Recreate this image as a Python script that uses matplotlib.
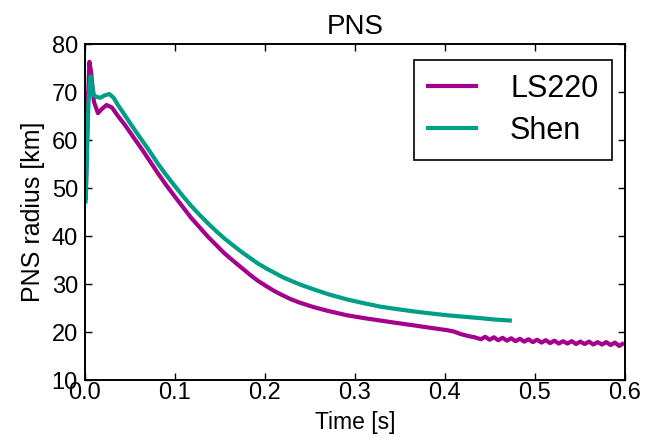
import matplotlib
matplotlib.use("Agg")
import matplotlib.pyplot as plt

# ---------------------------- данные ------------------------------- #
T_LS220 = [0.001, 0.003, 0.005, 0.007, 0.010, 0.0145, 0.019, 0.024, 0.030,
           0.036, 0.045, 0.055, 0.064, 0.0722, 0.081, 0.090, 0.100, 0.109,
           0.118, 0.128, 0.137, 0.146, 0.155, 0.165, 0.174, 0.183, 0.192,
           0.202, 0.210, 0.217, 0.228, 0.239, 0.254, 0.270, 0.291, 0.310,
           0.328, 0.346, 0.365, 0.383, 0.402, 0.410, 0.417, 0.425, 0.433,
           0.4400, 0.4448, 0.4496, 0.4544, 0.4592, 0.4640, 0.4688, 0.4736,
           0.4784, 0.4832, 0.4880, 0.4928, 0.4976, 0.5024, 0.5072, 0.5120,
           0.5168, 0.5216, 0.5264, 0.5312, 0.5360, 0.5408, 0.5456, 0.5504,
           0.5552, 0.5600, 0.5648, 0.5696, 0.5744, 0.5792, 0.5840, 0.5888,
           0.5936, 0.5970]
R_LS220 = [48.0, 66.0, 76.3, 74.0, 68.0, 65.6, 66.5, 67.3, 66.8,
           65.2, 63.0, 60.3, 57.9, 55.6, 53.1, 50.7, 48.2, 46.0,
           43.8, 41.7, 39.8, 38.1, 36.4, 34.8, 33.4, 32.0, 30.7,
           29.5, 28.6, 27.9, 26.9, 26.1, 25.2, 24.4, 23.5, 22.9,
           22.4, 21.9, 21.4, 20.9, 20.4, 20.1, 19.6, 19.2, 18.9,
           18.5, 19.0, 18.4, 18.9, 18.3, 18.8, 18.2, 18.7, 18.1,
           18.6, 18.0, 18.5, 17.9, 18.4, 17.8, 18.3, 17.7, 18.2,
           17.6, 18.1, 17.6, 18.1, 17.5, 18.0, 17.5, 18.0, 17.4,
           17.9, 17.4, 17.9, 17.3, 17.8, 17.1, 17.5]

T_SHEN = [0.0008, 0.002, 0.004, 0.0063, 0.008, 0.010, 0.013, 0.017, 0.022,
          0.027, 0.032, 0.036, 0.045, 0.055, 0.064, 0.0722, 0.081, 0.090,
          0.100, 0.109, 0.118, 0.128, 0.137, 0.146, 0.155, 0.165, 0.174,
          0.183, 0.192, 0.202, 0.211, 0.220, 0.230, 0.239, 0.254, 0.270,
          0.291, 0.310, 0.328, 0.346, 0.365, 0.383, 0.402, 0.420, 0.439,
          0.455, 0.472]
R_SHEN = [47.2, 55.0, 68.0, 73.3, 71.5, 69.3, 69.0, 68.8, 69.3,
          69.6, 68.8, 67.5, 65.0, 62.2, 59.8, 57.6, 55.1, 52.8,
          50.4, 48.3, 46.3, 44.3, 42.6, 41.0, 39.5, 38.0, 36.7,
          35.5, 34.3, 33.2, 32.3, 31.4, 30.6, 29.9, 28.9, 27.9,
          26.8, 26.0, 25.3, 24.8, 24.3, 23.9, 23.5, 23.2, 22.9,
          22.6, 22.4]

COL_LS220 = "#a4008c"
COL_SHEN = "#009e87"

plt.rcParams["font.family"] = ["Liberation Sans", "DejaVu Sans"]
plt.rcParams["xtick.direction"] = "in"
plt.rcParams["ytick.direction"] = "in"
plt.rcParams["xtick.top"] = True
plt.rcParams["ytick.right"] = True
plt.rcParams["axes.linewidth"] = 1.4

fig = plt.figure(figsize=(6.48, 4.45), dpi=100)
fig.subplots_adjust(left=0.131, right=0.9645, bottom=0.146, top=0.901)
ax = fig.add_subplot(111)

ax.plot(T_LS220, R_LS220, color=COL_LS220, lw=3, label="LS220")
ax.plot(T_SHEN, R_SHEN, color=COL_SHEN, lw=3, label="Shen")

ax.set_xlim(0.0, 0.6)
ax.set_ylim(10, 80)
ax.set_xticks([0.0, 0.1, 0.2, 0.3, 0.4, 0.5, 0.6])
ax.set_yticks([10, 20, 30, 40, 50, 60, 70, 80])
ax.tick_params(axis="both", which="major", length=5, width=1, labelsize=17)
ax.tick_params(axis="x", pad=1.5)
ax.tick_params(axis="y", pad=5)

ax.set_title("PNS", fontsize=20, pad=7)
ax.set_xlabel("Time [s]", fontsize=16.5, labelpad=5)
ax.set_ylabel("PNS radius [km]", fontsize=18, labelpad=5)

leg = ax.legend(loc="upper right", bbox_to_anchor=(0.976, 0.952),
                borderaxespad=0, fontsize=22, fancybox=False, frameon=True,
                framealpha=1, edgecolor="black", handlelength=1.6,
                handletextpad=1.1, borderpad=0.45, labelspacing=0.4)
leg.get_frame().set_linewidth(1.2)

fig.savefig("out.png", dpi=100)
